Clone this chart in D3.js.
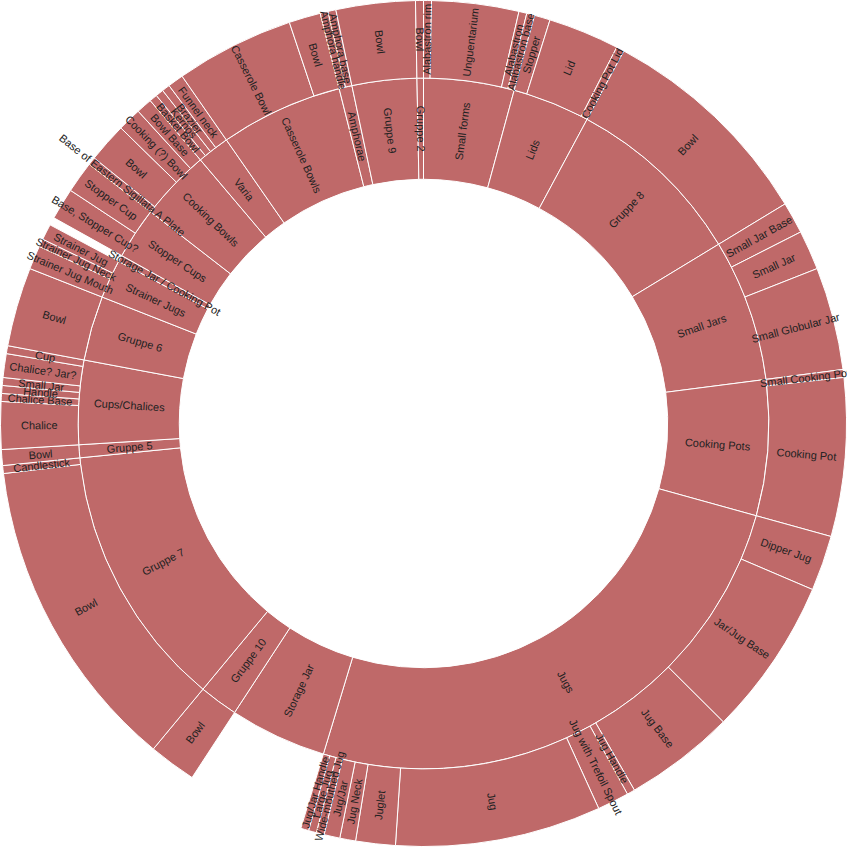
<!DOCTYPE html>
<html>
<head>
<meta charset="utf-8">
<script src="https://cdn.jsdelivr.net/npm/d3@7"></script>
<style>
  body { margin: 0; background: #fff; }
  svg { display: block; }
</style>
</head>
<body>
<svg id="chart" width="847" height="847"></svg>
<script>
// ---- Data ----
const groups = [
  "Small forms", "Lids", "Gruppe 8", "Small Jars", "Cooking Pots", "Jugs",
  "Storage Jar", "Gruppe 10", "Gruppe 7", "Gruppe 5", "Cups/Chalices",
  "Gruppe 6", "Strainer Jugs", "Storage Jar / Cooking Pot", "Stopper Cups",
  "Cooking Bowls", "Varia", "Casserole Bowls", "Amphorae", "Gruppe 9", "Gruppe 2"
];

// groups without sub-categories and their counts
const childlessGroups = ["Storage Jar", "Storage Jar / Cooking Pot"];
const childlessCounts = [15, 1];

// sub-categories (outer ring), in drawing order
const leafGroups = [
  "Small forms", "Small forms", "Small forms", "Small forms",
  "Lids", "Lids", "Lids",
  "Gruppe 8",
  "Small Jars", "Small Jars", "Small Jars",
  "Cooking Pots", "Cooking Pots",
  "Jugs", "Jugs", "Jugs", "Jugs", "Jugs", "Jugs", "Jugs", "Jugs", "Jugs", "Jugs", "Jugs", "Jugs",
  "Gruppe 10",
  "Gruppe 7", "Gruppe 7",
  "Gruppe 5",
  "Cups/Chalices", "Cups/Chalices", "Cups/Chalices", "Cups/Chalices", "Cups/Chalices", "Cups/Chalices",
  "Gruppe 6",
  "Strainer Jugs", "Strainer Jugs", "Strainer Jugs",
  "Stopper Cups", "Stopper Cups",
  "Cooking Bowls", "Cooking Bowls", "Cooking Bowls", "Cooking Bowls",
  "Varia", "Varia", "Varia", "Varia",
  "Casserole Bowls", "Casserole Bowls",
  "Amphorae", "Amphorae",
  "Gruppe 9",
  "Gruppe 2"
];
const leafNames = [
  "Alabastron rim", "Unguentarium", "Alabastron", "Alabastron base",
  "Stopper", "Lid", "Cooking Pot Lid",
  "Bowl",
  "Small Jar Base", "Small Jar", "Small Globular Jar",
  "Small Cooking Pot", "Cooking Pot",
  "Dipper Jug", "Jar/Jug Base", "Jug Base", "Jug Handle", "Jug with Trefoil Spout", "Jug",
  "Juglet", "Jug Neck", "Jug/Jar", "Wide-mouthed Jug", "Large Jug", "Jug/Jar Handle",
  "Bowl",
  "Bowl", "Candlestick",
  "Bowl",
  "Chalice", "Chalice Base", "Handle", "Small Jar", "Chalice? Jar?", "Cup",
  "Bowl",
  "Strainer Jug Mouth", "Strainer Jug Neck", "Strainer Jug",
  "Base, Stopper Cup?", "Stopper Cup",
  "Base of Eastern Sigillata A Plate", "Bowl", "Cooking (?) Bowl", "Bowl Base",
  "Basket Bowl", "Kernos", "Brazier", "Funnel neck",
  "Casserole Bowl", "Bowl",
  "Amphora handle", "Amphora base",
  "Bowl",
  "Bowl"
];
const leafCounts = [
  1, 11, 1, 1,
  2, 9, 1,
  28,
  4, 5, 13,
  1, 20,
  7, 20, 14, 1, 4, 26, 5, 2, 2, 1, 1, 1,
  6,
  40, 1,
  2,
  6, 1, 1, 1, 3, 1,
  10,
  3, 1, 2,
  4, 4,
  1, 5, 3, 2,
  1, 1, 1, 2,
  15, 4,
  1, 1,
  10,
  1
];

// ---- Build hierarchy ----
const tree = {
  name: "root",
  children: groups.map(g => {
    const ci = childlessGroups.indexOf(g);
    if (ci >= 0) return { name: g, value: childlessCounts[ci] };
    const kids = [];
    leafGroups.forEach((p, i) => {
      if (p === g) kids.push({ name: leafNames[i], value: leafCounts[i] });
    });
    return { name: g, children: kids };
  })
};

const W = 847, H = 847;
const radius = 423;
const fillColor = "rgb(191,105,105)";

const root = d3.hierarchy(tree).sum(d => d.children ? 0 : d.value);
d3.partition().size([2 * Math.PI, radius * radius])(root);

const arc = d3.arc()
  .startAngle(d => d.x0)
  .endAngle(d => d.x1)
  .innerRadius(d => Math.sqrt(d.y0))
  .outerRadius(d => Math.sqrt(d.y1));

const svg = d3.select("#chart");
const g = svg.append("g").attr("transform", `translate(${W / 2},${H / 2})`);

const nodes = root.descendants().filter(d => d.depth > 0);

g.append("g")
  .selectAll("path")
  .data(nodes)
  .join("path")
  .attr("d", arc)
  .attr("fill", fillColor)
  .attr("stroke", "#fff")
  .attr("stroke-width", 1);

g.append("g")
  .attr("text-anchor", "middle")
  .style("font-family", "'Liberation Sans', Arial, Helvetica, sans-serif")
  .style("font-size", "11px")
  .attr("fill", "#222")
  .selectAll("text")
  .data(nodes)
  .join("text")
  .attr("transform", d => {
    const x = (d.x0 + d.x1) / 2 * 180 / Math.PI;
    const y = (Math.sqrt(d.y0) + Math.sqrt(d.y1)) / 2;
    return `rotate(${x - 90}) translate(${y},0) rotate(${x < 180 ? 0 : 180})`;
  })
  .attr("dy", "0.35em")
  .text(d => d.data.name);
</script>
</body>
</html>
